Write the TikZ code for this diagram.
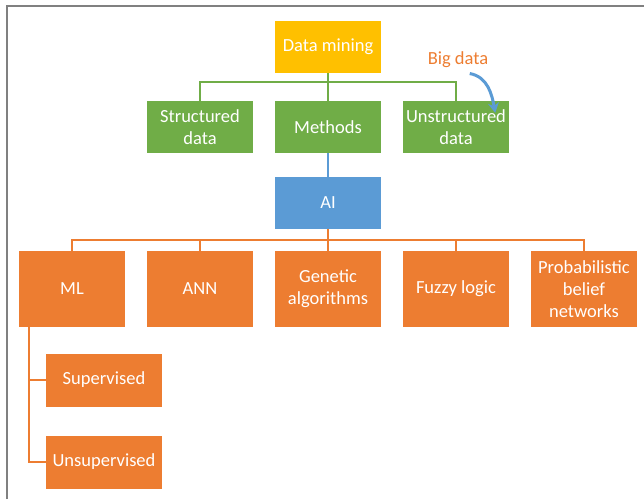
\documentclass[tikz,border=0pt]{standalone}
\usepackage{fontspec}
\setmainfont{Carlito}
\usepackage{tikz}
\usetikzlibrary{arrows.meta}
\definecolor{boxgold}{HTML}{FFC000}
\definecolor{boxgreen}{HTML}{70AD47}
\definecolor{boxblue}{HTML}{5B9BD5}
\definecolor{boxorange}{HTML}{ED7D31}
\definecolor{framegray}{HTML}{808080}

\begin{document}
\begin{tikzpicture}[x=1pt,y=1pt,
  box/.style={inner sep=0pt,align=center,text=white,minimum width=106,minimum height=52,
    font=\fontsize{18.5}{22}\selectfont},
  tall/.style={box,minimum height=76},
  link/.style={line width=2}]
  \useasboundingbox (0,0) rectangle (644,499);
  \draw[framegray,line width=1.5] (7,0) -- (7,493) -- (644,493);
  % top part
  \node[box,fill=boxgold] (dm) at (328,452) {Data mining};
  \node[box,fill=boxgreen] (sd) at (200,372) {Structured\\data};
  \node[box,fill=boxgreen] (mt) at (328,372) {Methods};
  \node[box,fill=boxgreen] (ud) at (456,372) {Unstructured\\data};
  \foreach \n in {sd,mt,ud}
    \draw[link,boxgreen] (dm.south) -- ++(0,-9) -| (\n.north);
  \node[text=boxorange,font=\fontsize{18.5}{22}\selectfont] (bd) at (458,439) {Big data};
  \draw[boxblue,line width=3,-{Stealth[length=10,width=11]}] (bd.south east) ++(-22,-2) to[out=-10,in=100] ([xshift=-14pt,yshift=-12pt]ud.north east);
  % AI and its methods
  \node[box,fill=boxblue] (ai) at (328,296) {AI};
  \draw[link,boxblue] (mt) -- (ai);
  \node[tall,fill=boxorange] (ml) at (72,210) {ML};
  \node[tall,fill=boxorange] (ann) at (200,210) {ANN};
  \node[tall,fill=boxorange] (ga) at (328,210) {Genetic\\algorithms};
  \node[tall,fill=boxorange] (fl) at (456,210) {Fuzzy logic};
  \node[tall,fill=boxorange] (pb) at (584,210) {Probabilistic\\belief\\networks};
  \foreach \n in {ml,ann,ga,fl,pb}
    \draw[link,boxorange] (ai.south) -- ++(0,-11) -| (\n.north);
  % ML
  \node[box,fill=boxorange,minimum width=116,minimum height=53] (sup) at (104,119) {Supervised};
  \node[box,fill=boxorange,minimum width=116,minimum height=53] (uns) at (104,37) {Unsupervised};
  \draw[link,boxorange] ([xshift=10pt]ml.south west) |- (sup.west);
  \draw[link,boxorange] ([xshift=10pt]ml.south west) |- (uns.west);
\end{tikzpicture}
\end{document}
